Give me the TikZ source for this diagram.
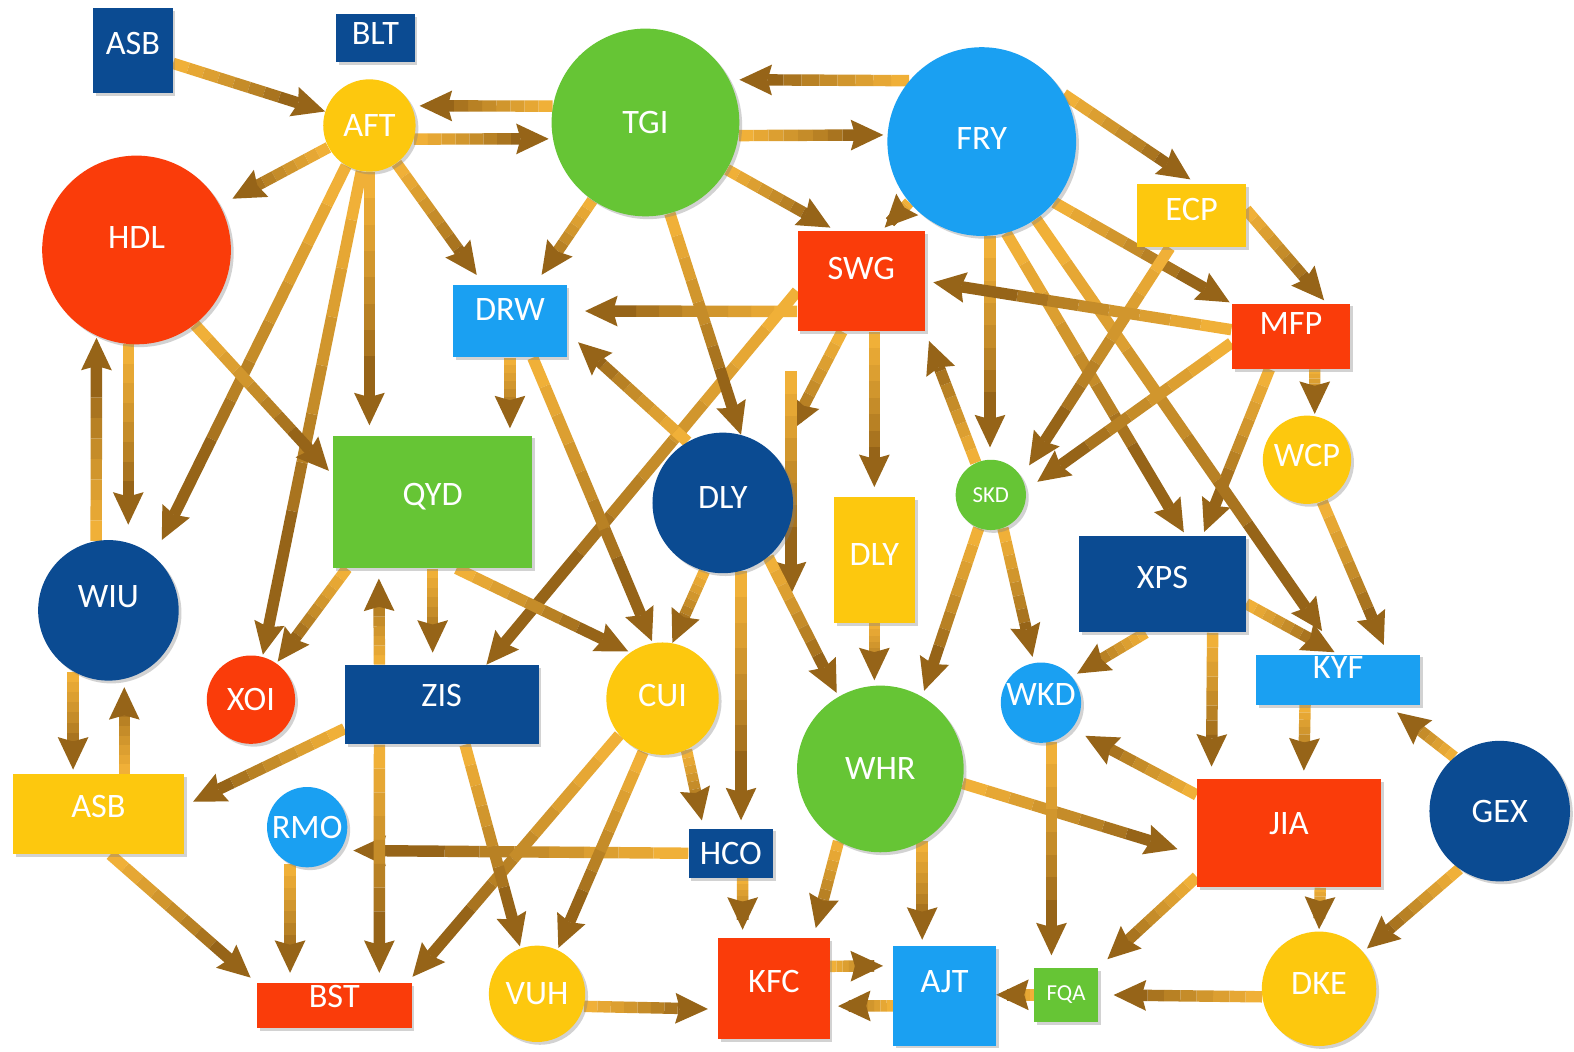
\documentclass[tikz,border=0pt]{standalone}
\usepackage{fontspec}
\setmainfont{Carlito}
\usetikzlibrary{arrows.meta,calc,shadows,backgrounds}
\definecolor{dblue}{HTML}{0B4B92}
\definecolor{lblue}{HTML}{1AA0F2}
\definecolor{grn}{HTML}{66C535}
\definecolor{nred}{HTML}{FA3C0A}
\definecolor{ylw}{HTML}{FDC80E}
\definecolor{acl}{HTML}{F0B038}
\definecolor{acd}{HTML}{8A5A14}
\pgfdeclarelayer{bgzero}
\pgfsetlayers{bgzero,background,main}
\newcommand\pxu{0.57125pt}
\tikzset{
  nd/.style={text=white, font=\fontsize{19.5}{21}\selectfont, inner sep=0pt, draw=none,
    drop shadow={shadow xshift=1.6pt, shadow yshift=-1.6pt, opacity=.35}},
  smallnd/.style={font=\fontsize{13}{15}\selectfont},
  up/.style={text height=12.5pt, text depth=#1*2*\pxu},
  circ/.style={nd, circle, minimum size=#1*\pxu},
  box/.style 2 args={nd, rectangle, minimum width=#1*\pxu, minimum height=#2*\pxu},
  band/.style={line width=6.5pt, line cap=butt},
  tipped/.style={-{Stealth[length=18.5pt,width=17.5pt,inset=2.5pt,line width=0pt]}},
}
\newcommand\edge[3][0]{%
  \path (#2) -- (#3) coordinate[pos=0] (g0) coordinate[pos=.1] (g1)
     coordinate[pos=.2] (g2) coordinate[pos=.3] (g3) coordinate[pos=.4] (g4)
     coordinate[pos=.5] (g5) coordinate[pos=.6] (g6) coordinate[pos=.7] (g7);
  \draw[band,draw=acl] (g0) -- (g1);
  \draw[band,draw=acl!90!acd] (g1) -- (g2);
  \draw[band,draw=acl!80!acd] (g2) -- (g3);
  \draw[band,draw=acl!70!acd] (g3) -- (g4);
  \draw[band,draw=acl!58!acd] (g4) -- (g5);
  \draw[band,draw=acl!45!acd] (g5) -- (g6);
  \draw[band,draw=acl!30!acd] (g6) -- (g7);
  \draw[band,draw=acl!12!acd,tipped,shorten >=#1*\pxu] (g7) -- (#3);
}
\begin{document}
\begin{tikzpicture}[x=0.57125pt,y=-0.57125pt]
\begin{pgfonlayer}{bgzero}
\fill[white] (0,0) rectangle (1568,1047);
\end{pgfonlayer}
\useasboundingbox (0,0) rectangle (1568,1047);
% nodes
\node[box={79}{85}, fill=dblue, up=7] (ASBa) at (132.5,50.5) {ASB};
\node[box={78}{48}, fill=dblue, up=5] (BLT) at (374,38) {BLT};
\node[circ=92, fill=ylw] (AFT) at (368,125) {AFT};
\node[circ=187, fill=grn] (TGI) at (643,122) {TGI};
\node[circ=188, fill=lblue, up=3] (FRY) at (978,141) {FRY};
\node[circ=188, fill=nred, up=12] (HDL) at (136,249) {HDL};
\node[box={108}{63}, fill=ylw, up=6] (ECP) at (1187,215) {ECP};
\node[box={127}{100}, fill=nred, up=13] (SWG) at (858,280) {SWG};
\node[box={113}{72}, fill=lblue, up=12] (DRW) at (508,320) {DRW};
\node[box={118}{65}, fill=nred, up=13] (MFP) at (1286,335) {MFP};
\node[circ=88, fill=ylw, up=4] (WCP) at (1302,458) {WCP};
\node[box={198}{132}, fill=grn, up=7] (QYD) at (431,500) {QYD};
\node[circ=140, fill=dblue, up=5] (DLYc) at (720,501) {DLY};
\node[box={81}{125}, fill=ylw, up=6] (DLYr) at (871,558) {DLY};
\node[circ=70, fill=grn, smallnd] (SKD) at (987,493) {SKD};
\node[box={166}{96}, fill=dblue, up=7] (XPS) at (1158,582) {XPS};
\node[circ=140, fill=dblue, up=14] (WIU) at (108,608) {WIU};
\node[circ=88, fill=nred] (XOI) at (250,697) {XOI};
\node[box={193}{79}, fill=dblue, up=9] (ZIS) at (440,702) {ZIS};
\node[circ=112, fill=ylw, up=3] (CUI) at (660,696) {CUI};
\node[circ=80, fill=lblue, up=8] (WKD) at (1037,700) {WKD};
\node[box={164}{50}, fill=lblue, up=12] (KYF) at (1333,677) {KYF};
\node[circ=166, fill=grn] (WHR) at (877,766) {WHR};
\node[circ=140, fill=dblue] (GEX) at (1494,808) {GEX};
\node[box={170}{80}, fill=ylw, up=8] (ASBb) at (98,811) {ASB};
\node[circ=80, fill=lblue] (RMO) at (306,824) {RMO};
\node[box={84}{49}, fill=dblue] (HCO) at (728,850) {HCO};
\node[box={183}{108}, fill=nred, up=10] (JIA) at (1284,830) {JIA};
\node[box={154}{45}, fill=nred, up=9] (BST) at (333,1002) {BST};
\node[circ=96, fill=ylw] (VUH) at (535,990) {VUH};
\node[box={111}{101}, fill=nred, up=7] (KFC) at (771,985) {KFC};
\node[box={102}{99}, fill=lblue, up=14] (AJT) at (941,992) {AJT};
\node[box={64}{54}, fill=grn, smallnd] (FQA) at (1062,991) {FQA};
\node[circ=114, fill=ylw, up=5] (DKE) at (1314,985) {DKE};
\coordinate (f1) at (788,370);
\coordinate (f2) at (788,592);
% edges
\begin{pgfonlayer}{background}
\edge[0]{ASBa}{AFT}
\edge[8]{TGI.170}{AFT.25}
\edge[4]{AFT.-17}{TGI.-170}
\edge[10]{FRY.140}{TGI.27}
\edge[4]{TGI.-8}{FRY.176}
\edge[14]{AFT}{HDL}
\edge[12]{AFT}{DRW}
\edge[10]{AFT.south}{AFT.south |- QYD.north}
\edge[18]{AFT.-120}{WIU.50}
\edge[2]{AFT.-100}{XOI.75}
\edge[15]{HDL.-95}{HDL.-95 |- WIU.north}
\edge[2]{WIU.100}{HDL.-115}
\edge[6]{HDL.-52}{$(QYD.north west)!0.3!(QYD.south west)$}
\edge[12]{TGI}{DRW}
\edge[6]{TGI.-30}{$(SWG.north west)!0.3!(SWG.north east)$}
\edge[4]{FRY.-140}{$(SWG.north west)!0.66!(SWG.north east)$}
\edge[8]{FRY.30}{$(ECP.north west)!0.55!(ECP.north east)$}
\edge[2]{FRY.-40}{MFP.north west}
\edge[12]{FRY.-85}{FRY.-85 |- SKD.north}
\edge[4]{FRY.-75}{$(XPS.north west)!0.64!(XPS.north east)$}
\edge[4]{$(MFP.south west)!0.32!(MFP.south east)$}{$(XPS.north west)!0.74!(XPS.north east)$}
\edge[28]{FRY.-55}{KYF.north}
\edge[4]{$(XPS.north east)!0.7!(XPS.south east)$}{KYF.north}
\edge[10]{WCP.-70}{$(KYF.north west)!0.8!(KYF.north east)$}
\edge[4]{$(ECP.north east)!0.4!(ECP.south east)$}{$(MFP.north west)!0.8!(MFP.north east)$}
\edge[14]{$(ECP.south west)!0.3!(ECP.south east)$}{SKD.30}
\edge[14]{$(MFP.north west)!0.6!(MFP.south west)$}{SKD.8}
\edge[8]{$(MFP.north west)!0.4!(MFP.south west)$}{SWG.east}
\edge[2]{$(MFP.south west)!0.7!(MFP.south east)$}{WCP.80}
\edge[18]{$(SWG.north west)!0.8!(SWG.south west)$}{$(DRW.north east)!0.36!(DRW.south east)$}
\edge[0]{$(SWG.north west)!0.6!(SWG.south west)$}{$(ZIS.north west)!0.73!(ZIS.north east)$}
\edge[10]{DLYr.north |- SWG.south}{DLYr.north}
\edge[30]{$(SWG.south west)!0.35!(SWG.south east)$}{DLYc.40}
\edge[0]{f1}{f2}
\edge[10]{SKD.115}{SWG.south east}
\edge[0]{TGI.-75}{DLYc.75}
\edge[7]{DRW.south}{DRW.south |- QYD.north}
\edge[2]{$(DRW.south west)!0.7!(DRW.south east)$}{CUI.100}
\edge[15]{DLYc.120}{$(DRW.north east)!0.65!(DRW.south east)$}
\edge[2]{$(QYD.south west)!0.07!(QYD.south east)$}{XOI.55}
\edge[12]{QYD.south}{QYD.south |- ZIS.north}
\edge[10]{$(ZIS.north west)!0.18!(ZIS.north east)$}{$(QYD.south west)!0.23!(QYD.south east)$}
\edge[2]{$(QYD.south west)!0.62!(QYD.south east)$}{CUI.125}
\edge[0]{DLYc.-105}{CUI.80}
\edge[8]{DLYc.-75}{DLYc.-75 |- HCO.north}
\edge[4]{DLYc.-50}{WHR.120}
\edge[5]{DLYr.south}{DLYr.south |- WHR.north}
\edge[6]{SKD.-110}{WHR.60}
\edge[6]{SKD.-70}{WKD.100}
\edge[6]{$(XPS.south west)!0.4!(XPS.south east)$}{WKD.40}
\edge[12]{$(XPS.south west)!0.8!(XPS.south east)$}{$(JIA.north west)!0.08!(JIA.north east)$}
\edge[8]{$(KYF.south west)!0.3!(KYF.south east)$}{$(JIA.north west)!0.58!(JIA.north east)$}
\edge[12]{GEX.130}{$(KYF.south west)!0.8!(KYF.south east)$}
\edge[5]{GEX.-125}{DKE.40}
\edge[2]{$(JIA.south west)!0.67!(JIA.south east)$}{DKE.north}
\edge[15]{$(JIA.north west)!0.15!(JIA.south west)$}{WKD.-40}
\edge[12]{$(JIA.north west)!0.9!(JIA.south west)$}{FQA.north east}
\edge[20]{WHR.-10}{$(JIA.north west)!0.7!(JIA.south west)$}
\edge[12]{WKD.-75}{WKD.-75 |- FQA.north}
\edge[15]{DKE.-172}{FQA.east}
\edge[0]{FQA.west}{FQA.west -| AJT.east}
\edge[10]{$(KFC.north east)!0.28!(KFC.south east)$}{$(AJT.north west)!0.2!(AJT.south west)$}
\edge[8]{$(AJT.north west)!0.6!(AJT.south west)$}{$(KFC.north east)!0.67!(KFC.south east)$}
\edge[10]{VUH.-15}{$(KFC.north west)!0.7!(KFC.south west)$}
\edge[10]{WHR.-120}{$(KFC.north west)!0.85!(KFC.north east)$}
\edge[6]{WHR.-60}{WHR.-60 |- AJT.north}
\edge[8]{$(HCO.south west)!0.64!(HCO.south east)$}{$(KFC.north west)!0.22!(KFC.north east)$}
\edge[13]{HCO.west}{RMO.-35}
\edge[8]{CUI.-65}{$(HCO.north west)!0.18!(HCO.north east)$}
\edge[8]{CUI.-140}{$(BST.north west)!0.97!(BST.north east)$}
\edge[2]{CUI.-110}{VUH.65}
\edge[2]{$(ZIS.south west)!0.62!(ZIS.south east)$}{VUH.110}
\edge[10]{$(ZIS.south west)!0.18!(ZIS.south east)$}{$(BST.north west)!0.79!(BST.north east)$}
\edge[10]{$(ZIS.north west)!0.8!(ZIS.south west)$}{$(ASBb.north east)!0.4!(ASBb.south east)$}
\edge[4]{WIU.-120}{WIU.-120 |- ASBb.north}
\edge[8]{WIU.-77 |- ASBb.north}{WIU.-77}
\edge[8]{$(ASBb.south west)!0.57!(ASBb.south east)$}{BST.north west}
\edge[10]{RMO.-115}{RMO.-115 |- BST.north}
\end{pgfonlayer}
\end{tikzpicture}
\end{document}
